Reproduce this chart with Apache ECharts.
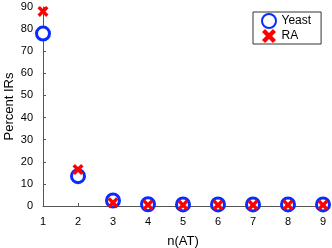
<!DOCTYPE html>
<html>
<head>
<meta charset="utf-8">
<script src="https://cdn.jsdelivr.net/npm/echarts@6/dist/echarts.min.js"></script>
<style>
  html, body { margin: 0; padding: 0; background: #fff; }
  #chart { width: 332px; height: 248px; }
</style>
</head>
<body>
<div id="chart"></div>
<script>
// n(AT) values on the x axis
var nAT = [1, 2, 3, 4, 5, 6, 7, 8, 9];
// percent IRs
var yeast = [78, 13.5, 2.5, 0.8, 0.7, 0.7, 0.7, 0.7, 0.7];
var ra = [88, 16.5, 1.5, 0.5, 0.4, 0.4, 0.4, 0.4, 0.4];

var crossPath = 'path://M0,2.2L2.2,0L5,2.8L7.8,0L10,2.2L7.2,5L10,7.8L7.8,10L5,7.2L2.2,10L0,7.8L2.8,5Z';

function pairs(xs, ys) {
    var out = [];
    for (var i = 0; i < xs.length; i++) out.push([xs[i], ys[i]]);
    return out;
}

var myChart = echarts.init(document.getElementById('chart'), null, {renderer: 'canvas'});

var axisText = {color: '#000', fontFamily: 'Liberation Sans', fontSize: 11};

var option = {
    animation: false,
    textStyle: {fontFamily: 'Liberation Sans'},
    grid: {left: 43, right: 9, top: 7, bottom: 42, containLabel: false, outerBoundsMode: 'none'},
    legend: {
        left: 253, top: 12,
        orient: 'vertical',
        borderColor: '#333', borderWidth: 1, borderRadius: 0,
        padding: [1, 10, 1, 8],
        itemGap: 0, itemWidth: 15, itemHeight: 14,
        textStyle: {color: '#000', fontSize: 12, fontFamily: 'Liberation Sans'},
        data: [{name: 'Yeast'}, {name: 'RA'}]
    },
    xAxis: {
        type: 'value', min: 1, max: 9, interval: 1,
        name: 'n(AT)', nameLocation: 'middle', nameGap: 29, nameMoveOverlap: false,
        nameTextStyle: {color: '#000', fontSize: 13, fontFamily: 'Liberation Sans'},
        axisLine: {lineStyle: {color: '#555', width: 1}},
        axisTick: {inside: true, length: 3, lineStyle: {color: '#555'}},
        axisLabel: Object.assign({margin: 10}, axisText),
        splitLine: {show: false}
    },
    yAxis: {
        type: 'value', min: 0, max: 90, interval: 10,
        name: 'Percent IRs', nameLocation: 'middle', nameGap: 27, nameMoveOverlap: false,
        nameTextStyle: {color: '#000', fontSize: 13, fontFamily: 'Liberation Sans'},
        axisLine: {show: true, lineStyle: {color: '#555', width: 1}},
        axisTick: {show: true, inside: true, length: 3, lineStyle: {color: '#555'}},
        axisLabel: Object.assign({margin: 10}, axisText),
        splitLine: {show: false}
    },
    series: [
        {
            name: 'Yeast', type: 'scatter', clip: false,
            symbol: 'circle', symbolSize: 13,
            itemStyle: {color: '#fff', borderColor: '#0a2bff', borderWidth: 3, opacity: 1},
            data: pairs(nAT, yeast), z: 3
        },
        {
            name: 'RA', type: 'scatter', clip: false,
            symbol: crossPath, symbolSize: 11,
            itemStyle: {color: '#ff0000', opacity: 1},
            data: pairs(nAT, ra), z: 4
        }
    ]
};

myChart.setOption(option);
</script>
</body>
</html>
